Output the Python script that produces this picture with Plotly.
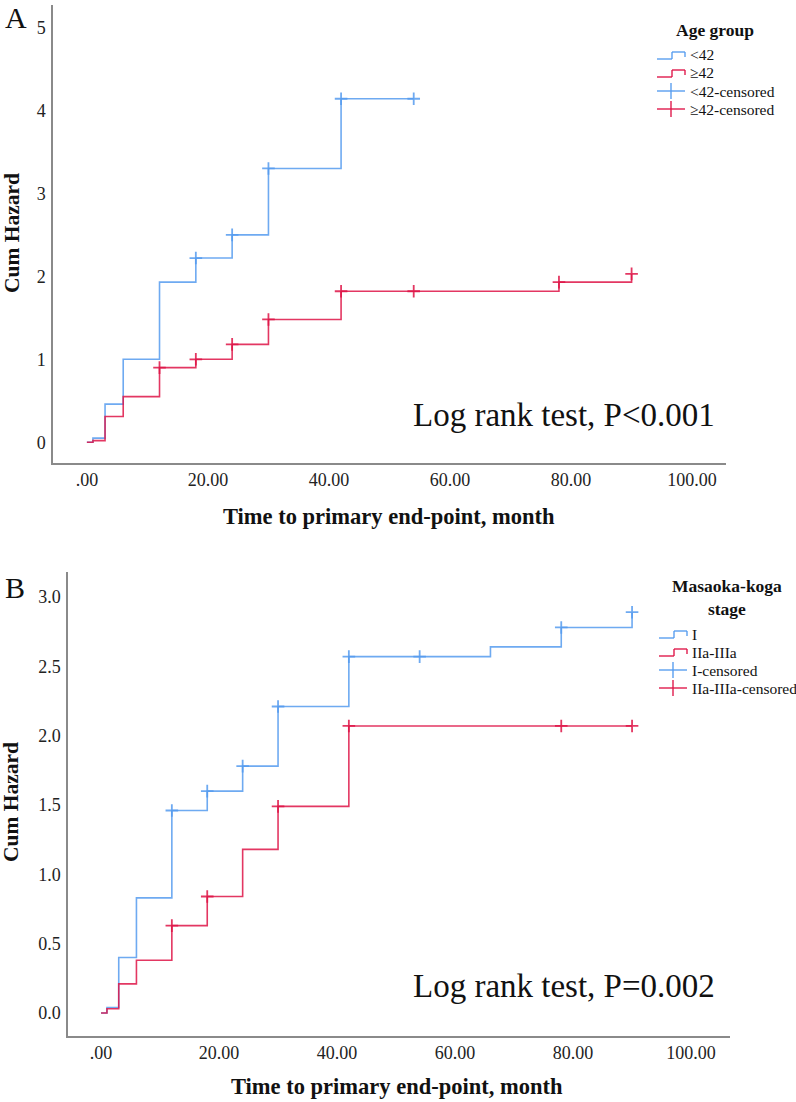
import plotly.graph_objects as go

# ---------------- Data ----------------
# Panel A: Age group
a_lt42_time = [0, 1, 3, 6, 12, 18, 24, 30, 42, 54]
a_lt42_haz = [0, 0.05, 0.46, 1.00, 1.93, 2.22, 2.50, 3.30, 4.14, 4.14]
a_lt42_cens_time = [18, 24, 30, 42, 54]
a_lt42_cens_haz = [2.22, 2.50, 3.30, 4.14, 4.14]

a_ge42_time = [0, 1, 3, 6, 12, 18, 24, 30, 42, 54, 78, 90]
a_ge42_haz = [0, 0.02, 0.31, 0.55, 0.90, 1.00, 1.18, 1.48, 1.82, 1.82, 1.93, 2.03]
a_ge42_cens_time = [12, 18, 24, 30, 42, 54, 78, 90]
a_ge42_cens_haz = [0.90, 1.00, 1.18, 1.48, 1.82, 1.82, 1.93, 2.03]

# Panel B: Masaoka-koga stage
b_I_time = [0, 1, 3, 6, 12, 18, 24, 30, 42, 54, 66, 78, 90]
b_I_haz = [0, 0.04, 0.40, 0.83, 1.46, 1.60, 1.78, 2.21, 2.57, 2.57, 2.64, 2.78, 2.89]
b_I_cens_time = [12, 18, 24, 30, 42, 54, 78, 90]
b_I_cens_haz = [1.46, 1.60, 1.78, 2.21, 2.57, 2.57, 2.78, 2.89]

b_II_time = [0, 1, 3, 6, 12, 18, 24, 30, 42, 78, 90]
b_II_haz = [0, 0.03, 0.21, 0.38, 0.63, 0.84, 1.18, 1.49, 2.07, 2.07, 2.07]
b_II_cens_time = [12, 18, 30, 42, 78, 90]
b_II_cens_haz = [0.63, 0.84, 1.49, 2.07, 2.07, 2.07]

x_tickvals = [0, 20, 40, 60, 80, 100]
x_ticktext = [".00", "20.00", "40.00", "60.00", "80.00", "100.00"]
a_y_tickvals = [0, 1, 2, 3, 4, 5]
a_y_ticktext = ["0", "1", "2", "3", "4", "5"]
b_y_tickvals = [0, 0.5, 1.0, 1.5, 2.0, 2.5, 3.0]
b_y_ticktext = ["0.0", "0.5", "1.0", "1.5", "2.0", "2.5", "3.0"]

legend_a_title = "Age group"
legend_a_labels = ["&lt;42", "≥42", "&lt;42-censored", "≥42-censored"]
legend_b_title = "Masaoka-koga<br>stage"
legend_b_labels = ["I", "IIa-IIIa", "I-censored", "IIa-IIIa-censored"]

BLUE = "rgba(85,155,238,0.85)"
RED = "rgba(222,20,70,0.85)"
FONT = "Liberation Serif"

W, H = 796, 1102


def px(x):
    return x / W


def py(y):
    return 1 - y / H


fig = go.Figure()


def add_series(t, h, ct, ch, color, xa, ya):
    fig.add_trace(go.Scatter(x=t, y=h, mode="lines", line=dict(color=color, width=1.6, shape="hv"),
                             xaxis=xa, yaxis=ya, showlegend=False, hoverinfo="skip"))
    fig.add_trace(go.Scatter(x=ct, y=ch, mode="markers",
                             marker=dict(symbol="cross-thin", size=9, line=dict(color=color, width=1.8)),
                             xaxis=xa, yaxis=ya, showlegend=False, hoverinfo="skip"))


add_series(a_lt42_time, a_lt42_haz, a_lt42_cens_time, a_lt42_cens_haz, BLUE, "x", "y")
add_series(a_ge42_time, a_ge42_haz, a_ge42_cens_time, a_ge42_cens_haz, RED, "x", "y")
add_series(b_I_time, b_I_haz, b_I_cens_time, b_I_cens_haz, BLUE, "x2", "y2")
add_series(b_II_time, b_II_haz, b_II_cens_time, b_II_cens_haz, RED, "x2", "y2")

axis_common = dict(showline=True, linecolor="#8a8a8a", linewidth=1.5, showgrid=False, zeroline=False,
                   ticks="outside", tickcolor="rgba(0,0,0,0)",
                   tickfont=dict(family=FONT, size=18, color="#222"))

fig.update_layout(
    width=W, height=H, autosize=False,
    margin=dict(l=0, r=0, t=0, b=0),
    plot_bgcolor="white", paper_bgcolor="white",
    showlegend=False,
    xaxis=dict(domain=[px(53), px(726)], range=[-5.6, 105.6], anchor="y",
               tickvals=x_tickvals, ticktext=x_ticktext, ticklen=0, **axis_common),
    yaxis=dict(domain=[py(463), py(5)], range=[-0.25, 5.27], anchor="x",
               tickvals=a_y_tickvals, ticktext=a_y_ticktext, ticklen=2, **axis_common),
    xaxis2=dict(domain=[px(68), px(730)], range=[-5.6, 106.6], anchor="y2",
                tickvals=x_tickvals, ticktext=x_ticktext, ticklen=0, **axis_common),
    yaxis2=dict(domain=[py(1036), py(572)], range=[-0.166, 3.18], anchor="x2",
                tickvals=b_y_tickvals, ticktext=b_y_ticktext, ticklen=2, **axis_common),
)

ann = []


def text(x, y, s, size, bold=False, xanchor="center", yanchor="middle", angle=0, color="#111"):
    ann.append(dict(x=px(x), y=py(y), xref="paper", yref="paper", text=("<b>%s</b>" % s) if bold else s,
                    showarrow=False, xanchor=xanchor, yanchor=yanchor, textangle=angle,
                    font=dict(family=FONT, size=size, color=color)))


# Panel letters
text(16, 18, "A", 30)
text(15, 587, "B", 30)
# Axis titles
text(12, 233, "Cum Hazard", 21.5, bold=True, angle=-90)
text(11, 802, "Cum Hazard", 21.5, bold=True, angle=-90)
text(389, 516, "Time to primary end-point, month", 22.5, bold=True)
text(397, 1086, "Time to primary end-point, month", 22.5, bold=True)
# Log rank
text(411, 415, "Log rank test, P&lt;0.001", 33, xanchor="left")
text(411, 986, "Log rank test, P=0.002", 33, xanchor="left")

shapes = []


def seg(x0, y0, x1, y1, color):
    shapes.append(dict(type="line", xref="paper", yref="paper", x0=px(x0), y0=py(y0), x1=px(x1), y1=py(y1),
                       line=dict(color=color, width=1.6)))


def legend(title_y, title, labels, entry_ys, title_x, sx):
    text(title_x, title_y, title, 17.5, bold=True)
    colors = [BLUE, RED, BLUE, RED]
    for i, (lab, yy) in enumerate(zip(labels, entry_ys)):
        c = colors[i]
        if i < 2:
            seg(sx, yy + 4, sx + 15, yy + 4, c)
            seg(sx + 15, yy + 4, sx + 15, yy - 3, c)
            seg(sx + 15, yy - 3, sx + 28, yy - 3, c)
            seg(sx + 28, yy - 3, sx + 28, yy + 2, c)
        else:
            seg(sx, yy, sx + 28, yy, c)
            seg(sx + 14, yy - 8, sx + 14, yy + 8, c)
        text(sx + 31, yy, lab, 15.5, xanchor="left")


legend(30, legend_a_title, legend_a_labels, [55, 73, 91, 109], 715, 657)
legend(598, legend_b_title, legend_b_labels, [634, 652, 670, 688], 727, 659)

fig.update_layout(annotations=ann, shapes=shapes)
fig.write_html("out.html", config={"displayModeBar": False},
               post_script="document.body.style.margin='0px';document.body.style.padding='0px';")
